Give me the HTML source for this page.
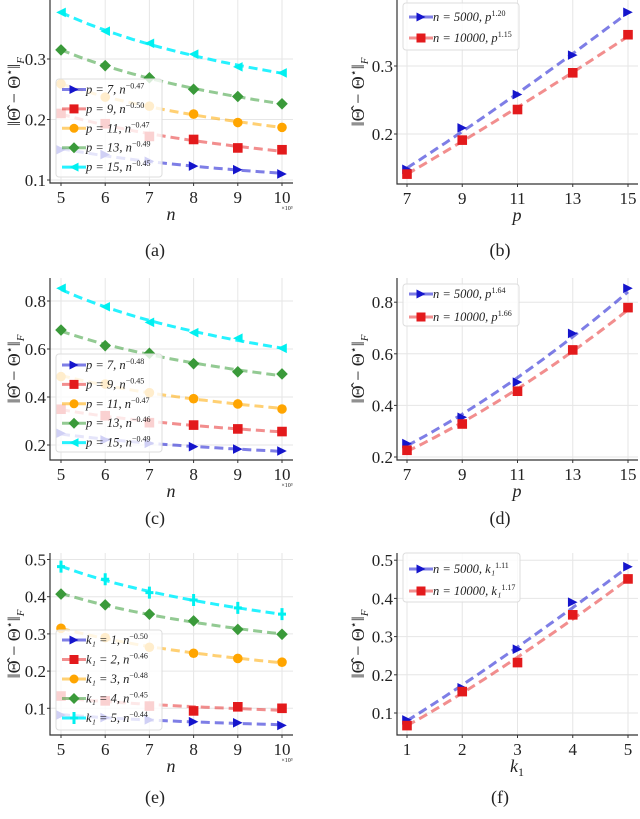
<!DOCTYPE html>
<html><head><meta charset="utf-8">
<style>
html,body{margin:0;padding:0;background:#fff;}
svg, svg text{font-family:"Liberation Serif","DejaVu Serif",serif;}
</style></head>
<body>
<svg id="fig" width="640" height="814" viewBox="0 0 640 814" xmlns="http://www.w3.org/2000/svg" font-family="Liberation Serif, DejaVu Serif, serif"></svg>
<script>
// ---- data ----
const nVals = [5,6,7,8,9,10];
const pVals = [7,9,11,13,15];
const kVals = [1,2,3,4,5];
// panel (a)
const a_p7  = [0.150,0.142,0.131,0.123,0.117,0.110];
const a_p9  = [0.210,0.193,0.172,0.167,0.153,0.150];
const a_p11 = [0.259,0.237,0.222,0.209,0.195,0.187];
const a_p13 = [0.315,0.289,0.269,0.250,0.238,0.226];
const a_p15 = [0.377,0.346,0.326,0.308,0.287,0.277];
const a_labels = ["p = 7, n","p = 9, n","p = 11, n","p = 13, n","p = 15, n"];
const a_exps = ["−0.47","−0.50","−0.47","−0.49","−0.45"];
// panel (b)
const b_n5000  = [0.148,0.209,0.258,0.316,0.379];
const b_n10000 = [0.141,0.191,0.236,0.290,0.346];
const b_labels = ["n = 5000, p","n = 10000, p"];
const b_exps = ["1.20","1.15"];
// panel (c)
const c_p7  = [0.249,0.221,0.207,0.193,0.183,0.175];
const c_p9  = [0.349,0.322,0.293,0.283,0.267,0.256];
const c_p11 = [0.485,0.454,0.418,0.393,0.371,0.350];
const c_p13 = [0.679,0.614,0.582,0.539,0.505,0.496];
const c_p15 = [0.853,0.776,0.711,0.668,0.645,0.603];
const c_labels = ["p = 7, n","p = 9, n","p = 11, n","p = 13, n","p = 15, n"];
const c_exps = ["−0.48","−0.45","−0.47","−0.46","−0.49"];
// panel (d)
const d_n5000  = [0.252,0.354,0.490,0.679,0.854];
const d_n10000 = [0.226,0.328,0.455,0.615,0.779];
const d_labels = ["n = 5000, p","n = 10000, p"];
const d_exps = ["1.64","1.66"];
// panel (e)
const e_k1 = [0.082,0.075,0.069,0.064,0.061,0.054];
const e_k2 = [0.133,0.120,0.106,0.093,0.104,0.100];
const e_k3 = [0.315,0.290,0.264,0.248,0.234,0.224];
const e_k4 = [0.407,0.378,0.353,0.335,0.312,0.299];
const e_k5 = [0.481,0.447,0.411,0.391,0.370,0.353];
const e_labels = ["k₁ = 1, n","k₁ = 2, n","k₁ = 3, n","k₁ = 4, n","k₁ = 5, n"];
const e_exps = ["−0.50","−0.46","−0.48","−0.45","−0.44"];
// panel (f)
const f_n5000  = [0.082,0.166,0.267,0.390,0.483];
const f_n10000 = [0.067,0.156,0.232,0.357,0.451];
const f_labels = ["n = 5000, k₁","n = 10000, k₁"];
const f_exps = ["1.11","1.17"];

const NS="http://www.w3.org/2000/svg";
const FF="Liberation Serif, DejaVu Serif, serif";
const svg=document.getElementById('fig');
function el(tag,attrs,parent){const e=document.createElementNS(NS,tag);for(const k in attrs)e.setAttribute(k,attrs[k]);if(tag==='text')e.setAttribute('font-family',FF);(parent||svg).appendChild(e);return e;}

const COL={blue:{m:"#1515cc",l:"rgba(20,20,210,0.55)"},red:{m:"#e31a1c",l:"rgba(230,30,30,0.5)"},
orange:{m:"#ffa500",l:"rgba(255,170,0,0.55)"},green:{m:"#3a9a3a",l:"rgba(40,150,40,0.5)"},cyan:{m:"#00f0f0",l:"rgba(0,240,255,0.85)"}};

function marker(g,shape,x,y,c,s){
  s=s||5;let e;
  if(shape==='tri-r')e=el('polygon',{points:`${x+s},${y} ${x-s},${y-s} ${x-s},${y+s}`,fill:c},g);
  else if(shape==='tri-l')e=el('polygon',{points:`${x-s},${y} ${x+s},${y-s} ${x+s},${y+s}`,fill:c},g);
  else if(shape==='sq')e=el('rect',{x:x-s,y:y-s,width:2*s,height:2*s,fill:c},g);
  else if(shape==='circ')e=el('circle',{cx:x,cy:y,r:s,fill:c},g);
  else if(shape==='dia')e=el('polygon',{points:`${x},${y-s-1} ${x+s+1},${y} ${x},${y+s+1} ${x-s-1},${y}`,fill:c},g);
  else if(shape==='plus'){e=el('path',{d:`M${x-4},${y}H${x+4}M${x},${y-6}V${y+6}`,stroke:c,'stroke-width':3},g);}
  return e;
}
function fit(xs,ys){
  const lx=xs.map(Math.log),ly=ys.map(Math.log);const n=xs.length;
  const mx=lx.reduce((a,b)=>a+b)/n,my=ly.reduce((a,b)=>a+b)/n;
  let num=0,den=0;for(let i=0;i<n;i++){num+=(lx[i]-mx)*(ly[i]-my);den+=(lx[i]-mx)**2;}
  const b=num/den,a=my-b*mx;return x=>Math.exp(a+b*Math.log(x));
}

function panel(cfg){
  const g=el('g',{},svg);
  
  
  const sx=v=>cfg.x0+(v-cfg.xv0)*cfg.xs, sy=v=>cfg.y0-(v-cfg.yv0)*cfg.ys;
  cfg.xt.forEach(t=>{const l=el('line',{x1:sx(t),x2:sx(t),y1:cfg.top,y2:cfg.bottom,stroke:'#e6e6e6','stroke-width':1},g);
    });
  cfg.yt.forEach(t=>{const l=el('line',{x1:cfg.left,x2:cfg.right,y1:sy(t),y2:sy(t),stroke:'#e6e6e6','stroke-width':1},g);
    });
  const sp=el('path',{d:`M${cfg.left},${cfg.top}V${cfg.bottom}H${cfg.right}`,stroke:'#333',fill:'none','stroke-width':1.2},g);
  
  cfg.xt.forEach(t=>{el('line',{x1:sx(t),x2:sx(t),y1:cfg.bottom,y2:cfg.bottom+3,stroke:'#333'},g);
    const tx=el('text',{x:sx(t),y:cfg.bottom+20,'text-anchor':'middle','font-size':17,fill:'#222'},g);tx.textContent=t;
    });
  cfg.yt.forEach(t=>{el('line',{x1:cfg.left-3,x2:cfg.left,y1:sy(t),y2:sy(t),stroke:'#333'},g);
    const tx=el('text',{x:cfg.left-4,y:sy(t)+6,'text-anchor':'end','font-size':17,fill:'#222'},g);tx.textContent=t.toFixed(1);
    });
  if(cfg.x10){const t=el('text',{x:cfg.right-6,y:cfg.bottom+27,'text-anchor':'middle','font-size':6,fill:'#222'},g);t.textContent='×10³';
    }
  const xl=el('text',{x:(cfg.xlx),y:cfg.bottom+37,'text-anchor':'middle','font-size':18,'font-style':'italic',fill:'#222'},g);
  xl.innerHTML=cfg.xlabel;
  const cy=(cfg.top+cfg.bottom)/2;
  const yl=el('text',{x:0,y:0,transform:`translate(${cfg.ylx},${cy}) rotate(-90)`,'text-anchor':'middle','font-size':18,fill:'#222'},g);
  yl.innerHTML='‖Θ̂ − Θ<tspan dy="-7" font-size="11">⋆</tspan><tspan dy="7">‖</tspan><tspan dy="4" font-size="11" font-style="italic">F</tspan>';
  
  cfg.series.forEach(s=>{
    const sg=el('g',{},g);
    const f=fit(cfg.xv,s.vals);let d='';
    const x0=cfg.xv[0],x1=cfg.xv[cfg.xv.length-1];
    for(let i=0;i<=40;i++){const xv=x0+(x1-x0)*i/40;d+=(i?'L':'M')+sx(xv).toFixed(1)+','+sy(f(xv)).toFixed(1);}
    const ln=el('path',{d,stroke:COL[s.c].l,'stroke-width':3,fill:'none','stroke-dasharray':'9,5'},sg);
    
    s.vals.forEach((v,i)=>{const m=marker(sg,s.shape,sx(cfg.xv[i]),sy(v),COL[s.c].m,4.8);
      });
  });
  const L=cfg.leg;
  const lg=el('g',{},g);
  el('rect',{x:L.x,y:L.y,width:L.w,height:L.h,rx:3,fill:'rgba(255,255,255,0.8)',stroke:'#ddd'},lg);
  cfg.series.forEach((s,i)=>{
    const yy=L.r0+i*L.dy;
    const eg=el('g',{},lg);
    el('line',{x1:L.x+6,x2:L.x+30,y1:yy,y2:yy,stroke:COL[s.c].l,'stroke-width':3},eg);
    marker(eg,s.shape,L.x+18,yy,COL[s.c].m,4.5);
    const t=el('text',{x:L.x+30,y:yy+4,'font-size':12.5,'font-style':'italic',fill:'#222'},eg);
    t.innerHTML=cfg.labels[i]+'<tspan dy="-5" font-size="8" font-style="normal">'+cfg.exps[i]+'</tspan>';
  });
  const cap=el('text',{x:cfg.capx,y:cfg.capy,'text-anchor':'middle','font-size':18,fill:'#222'},svg);
  cap.textContent=cfg.cap;
}
const colsN=['blue','red','orange','green','cyan'];
const shapesN=['tri-r','sq','circ','dia','tri-l'];
function mk(arrs,keys,shapes){return arrs.map((v,i)=>({vals:v,c:colsN[i],shape:shapes[i],key:keys[i]}));}

const legL={x:56,w:106,h:98,dy:19.4};
panel({name:'panel-a',left:50,right:293,top:0,bottom:183,x0:61,xv0:5,xs:44.2,y0:180,yv0:0.1,ys:605,
  xt:nVals,yt:[0.1,0.2,0.3],xv:nVals,x10:true,xlabel:'n',xlx:171,ylx:20,cap:'(a)',capx:155,capy:256,
  series:mk([a_p7,a_p9,a_p11,a_p13,a_p15],['p7','p9','p11','p13','p15'],shapesN),labels:a_labels,exps:a_exps,
  leg:{...legL,y:79,r0:89.5}});
panel({name:'panel-b',left:397,right:638,top:0,bottom:184,x0:407,xv0:7,xs:27.625,y0:134,yv0:0.2,ys:680,
  xt:pVals,yt:[0.2,0.3],xv:pVals,xlabel:'p',xlx:517,ylx:364,cap:'(b)',capx:500,capy:256,
  series:[{vals:b_n5000,c:'blue',shape:'tri-r',key:'n5000'},{vals:b_n10000,c:'red',shape:'sq',key:'n10000'}],
  labels:b_labels,exps:b_exps,leg:{x:403,y:3,w:116,h:47,r0:17,dy:21}});
panel({name:'panel-c',left:50,right:293,top:278,bottom:460,x0:61,xv0:5,xs:44.2,y0:445,yv0:0.2,ys:240,
  xt:nVals,yt:[0.2,0.4,0.6,0.8],xv:nVals,x10:true,xlabel:'n',xlx:171,ylx:20,cap:'(c)',capx:155,capy:524,
  series:mk([c_p7,c_p9,c_p11,c_p13,c_p15],['p7','p9','p11','p13','p15'],shapesN),labels:c_labels,exps:c_exps,
  leg:{...legL,y:354,r0:365}});
panel({name:'panel-d',left:397,right:638,top:278,bottom:460,x0:407,xv0:7,xs:27.625,y0:457,yv0:0.2,ys:258,
  xt:pVals,yt:[0.2,0.4,0.6,0.8],xv:pVals,xlabel:'p',xlx:517,ylx:364,cap:'(d)',capx:500,capy:524,
  series:[{vals:d_n5000,c:'blue',shape:'tri-r',key:'n5000'},{vals:d_n10000,c:'red',shape:'sq',key:'n10000'}],
  labels:d_labels,exps:d_exps,leg:{x:403,y:284,w:116,h:42,r0:294,dy:23}});
panel({name:'panel-e',left:50,right:293,top:553,bottom:735,x0:61,xv0:5,xs:44.2,y0:708.3,yv0:0.1,ys:372,
  xt:nVals,yt:[0.1,0.2,0.3,0.4,0.5],xv:nVals,x10:true,xlabel:'n',xlx:171,ylx:20,cap:'(e)',capx:155,capy:803,
  series:mk([e_k1,e_k2,e_k3,e_k4,e_k5],['k1','k2','k3','k4','k5'],['tri-r','sq','circ','dia','plus']),labels:e_labels,exps:e_exps,
  leg:{...legL,y:630,h:100,r0:640,dy:19.5}});
panel({name:'panel-f',left:397,right:638,top:553,bottom:735,x0:407,xv0:1,xs:55.25,y0:713,yv0:0.1,ys:382,
  xt:kVals,yt:[0.1,0.2,0.3,0.4,0.5],xv:kVals,xlabel:'k<tspan dy="4" font-size="12" font-style="normal">1</tspan>',xlx:517,ylx:364,cap:'(f)',capx:500,capy:803,
  series:[{vals:f_n5000,c:'blue',shape:'tri-r',key:'n5000'},{vals:f_n10000,c:'red',shape:'sq',key:'n10000'}],
  labels:f_labels,exps:f_exps,leg:{x:403,y:553,w:117,h:49,r0:569,dy:22}});
</script>
</body></html>
